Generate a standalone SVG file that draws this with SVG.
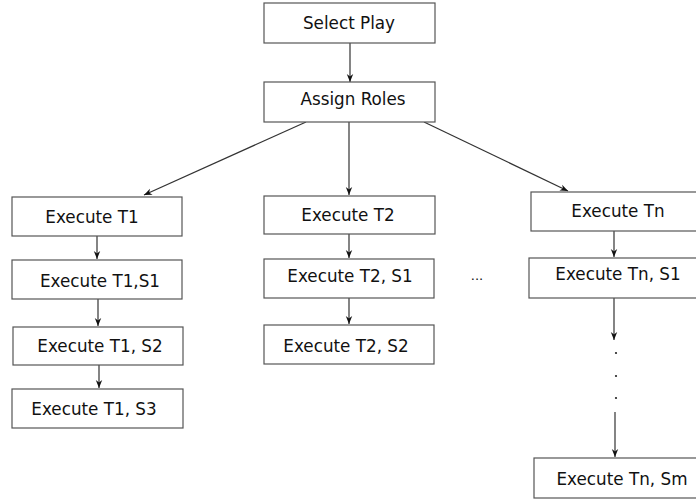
<svg xmlns="http://www.w3.org/2000/svg" width="696" height="500" viewBox="0 0 696 500">
<defs>
<marker id="ah" viewBox="0 0 10 10" refX="10" refY="5" markerWidth="8" markerHeight="10" markerUnits="userSpaceOnUse" orient="auto">
<path d="M0,1 L10,5 L0,9 L3,5 Z" fill="#111"/>
</marker>
</defs>
<style>
rect{fill:#fff;stroke:#555;stroke-width:1.2}
text{font-family:"DejaVu Sans",sans-serif;font-size:16.8px;fill:#111;text-anchor:middle}
.c{stroke:#333;stroke-width:1.2;fill:none;marker-end:url(#ah)}
</style>
<rect x="0" y="0" width="696" height="500" style="fill:#fff;stroke:none"/>
<g id="connectors">
<line class="c" x1="350" y1="43" x2="350" y2="82"/>
<line class="c" x1="306" y1="122" x2="144" y2="195"/>
<line class="c" x1="349" y1="122" x2="349" y2="195"/>
<line class="c" x1="424" y1="122" x2="568" y2="191"/>
<line class="c" x1="97" y1="236" x2="97" y2="259"/>
<line class="c" x1="98" y1="299" x2="98" y2="326"/>
<line class="c" x1="99" y1="365" x2="99" y2="388"/>
<line class="c" x1="349" y1="234" x2="349" y2="258"/>
<line class="c" x1="349" y1="298" x2="349" y2="324"/>
<line class="c" x1="614" y1="231" x2="614" y2="257"/>
<line class="c" x1="614" y1="298" x2="614" y2="340"/>
<line class="c" x1="615" y1="412" x2="615" y2="457"/>
<circle cx="616" cy="353" r="1.1" fill="#222"/>
<circle cx="616" cy="376" r="1.1" fill="#222"/>
<circle cx="616" cy="398" r="1.1" fill="#222"/>
</g>
<g id="select-play"><rect x="264" y="3" width="171" height="40"/><text x="349" y="29">Select Play</text></g>
<g id="assign-roles"><rect x="264" y="82" width="171" height="40"/><text x="353" y="105">Assign Roles</text></g>
<g id="exec-t1"><rect x="12" y="197" width="170" height="39"/><text x="92" y="223">Execute T1</text></g>
<g id="exec-t1-s1"><rect x="12" y="260" width="170" height="39"/><text x="100" y="287">Execute T1,S1</text></g>
<g id="exec-t1-s2"><rect x="13" y="327" width="170" height="38"/><text x="100" y="352">Execute T1, S2</text></g>
<g id="exec-t1-s3"><rect x="12" y="389" width="171" height="39"/><text x="94" y="415">Execute T1, S3</text></g>
<g id="exec-t2"><rect x="264" y="196" width="171" height="38"/><text x="348" y="221">Execute T2</text></g>
<g id="exec-t2-s1"><rect x="264" y="259" width="170" height="39"/><text x="350" y="282">Execute T2, S1</text></g>
<g id="exec-t2-s2"><rect x="264" y="325" width="170" height="39"/><text x="346" y="352">Execute T2, S2</text></g>
<g id="ellipsis"><text x="477" y="280" style="font-size:13px">...</text></g>
<g id="exec-tn"><rect x="531" y="192" width="166" height="39"/><text x="618" y="217">Execute Tn</text></g>
<g id="exec-tn-s1"><rect x="529" y="258" width="168" height="40"/><text x="618" y="280">Execute Tn, S1</text></g>
<g id="exec-tn-sm"><rect x="534" y="458" width="163" height="40"/><text x="622" y="485">Execute Tn, Sm</text></g>
</svg>
